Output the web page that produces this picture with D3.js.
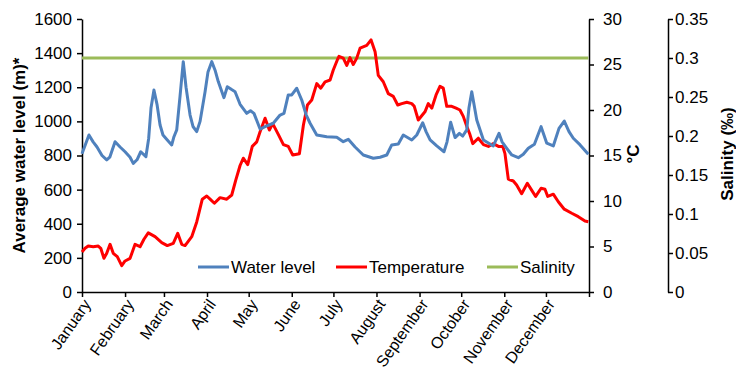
<!DOCTYPE html>
<html>
<head>
<meta charset="utf-8">
<script src="https://cdn.jsdelivr.net/npm/d3@7"></script>
<style>
  html, body { margin: 0; padding: 0; background: #fff; }
  svg { display: block; font-family: "Liberation Sans", Arial, sans-serif; }
</style>
</head>
<body>
<svg id="chart" width="736" height="374"></svg>
<script>
// Month labels for the category axis
const months = ["January", "February", "March", "April", "May", "June",
  "July", "August", "September", "October", "November", "December"];

// Average water level (m), by day of year
const levelDay = [0, 5, 8, 10.8, 14.4, 17.8, 20, 23.8, 27.4, 31, 34.6, 36.9, 39.6, 42.3, 46, 48, 49.7, 51.8, 54, 56.2,
  58.3, 61.4, 64.6, 66.2, 68.2, 70.6, 72.9, 74.9, 77.8, 79.9, 82.6, 85, 88.6, 90.7, 93.4, 95.8, 98.1, 102.2, 104.6, 108,
  110.2, 113.8, 118.6, 121.3, 123.8, 128.2, 131.8, 137.7, 142.6, 145.4, 148.5, 151, 154.6, 158.2, 161.3, 164.2, 169, 176.2, 183.4, 188.1,
  191.7, 196.6, 202.5, 209.7, 214.6, 219.4, 223, 227.7, 231.3, 237.4, 241, 245.3, 247.7, 250.6, 255.4, 260.6, 262.8, 265.4, 268.6, 271.7,
  274.1, 277, 278.6, 280.6, 282.2, 284.2, 289, 296.1, 300.2, 302.4, 305.8, 309.4, 314.1, 317.7, 321.3, 325.7, 330.5, 334.6, 339.3, 343.4,
  347.2, 350.6, 353.7, 358.6, 364.5];
const level = [810, 920, 880, 850, 800, 774, 790, 881, 850, 822, 790, 754, 775, 822, 793, 900, 1080, 1184, 1100, 979,
  920, 891, 862, 910, 950, 1150, 1350, 1200, 1037, 970, 940, 1000, 1174, 1290, 1350, 1300, 1233, 1139, 1203, 1185,
  1174, 1100, 1047, 1062, 1047, 955, 969, 989, 1037, 1047, 1155, 1155, 1194, 1125, 1040, 989, 920, 910, 907, 881,
  895, 850, 803, 784, 790, 803, 862, 867, 920, 891, 920, 992, 940, 891, 856, 822, 880, 995, 905, 930,
  914, 950, 1080, 1174, 1100, 1008, 891, 856, 930, 880, 842, 803, 787, 807, 842, 866, 969, 872, 856, 959,
  1002, 940, 901, 862, 807];

// Water temperature (°C), by day of year
const tempDay = [0, 2.2, 4.5, 8.1, 11.7, 13.5, 15.8, 17.8, 20.2, 22.5, 25.4, 28.6, 31, 34.6, 38.2, 41.8, 44.6, 47.7, 52.6, 57.4,
  61.4, 65.7, 68.9, 71.8, 74.2, 79, 82.6, 86.6, 89.8, 92.2, 95.3, 99.4, 104.2, 107.8, 110.7, 113.8, 116.1, 119.3, 122.6, 125.8,
  128.2, 131.8, 134.9, 137.3, 141.4, 145, 148.5, 151.7, 156.5, 159.4, 162.3, 165.4, 169, 171.9, 175, 178.6, 180.9, 183.8, 185, 188.1,
  190.6, 192.9, 195.3, 197.8, 200.2, 205, 208.1, 211, 213.3, 216.9, 220.5, 224.1, 227.3, 230.2, 233.8, 237.4, 239.2, 242.1, 245, 246.9,
  249.3, 251.8, 254.9, 257.7, 260.1, 262.6, 266.2, 269.3, 272.1, 274.5, 277, 279.3, 281.3, 285.3, 289, 292.6, 296.1, 299.8, 302.9, 304.5,
  306.9, 310.5, 312.9, 316.5, 320.6, 323.7, 326.6, 330.5, 333.3, 335.3, 339.3, 342.9, 347.2, 352.6, 357.3, 362.1, 364.5];
const temperature = [4.4, 4.8, 5.05, 4.98, 5.05, 4.8, 3.7, 4.25, 5.24, 4.25, 3.88, 2.89, 3.41, 3.7, 5.24, 4.98, 5.8, 6.5, 6.08, 5.42,
  5.1, 5.35, 6.45, 5.24, 5.1, 6.08, 7.7, 10.2, 10.55, 10.2, 9.75, 10.37, 10.2, 10.66, 12.3, 13.9, 14.7, 14.0, 16.0, 16.5,
  17.6, 19.1, 17.8, 18.5, 17.3, 16.2, 16.0, 15.05, 15.2, 18.35, 20.55, 21.1, 22.9, 22.4, 23.1, 23.3, 24.4, 25.5, 25.9, 25.7,
  24.9, 25.75, 25.0, 25.7, 26.8, 27.1, 27.7, 26.4, 23.8, 23.1, 21.8, 21.5, 20.55, 20.7, 20.85, 20.7, 20.4, 18.9, 19.45, 19.8,
  20.7, 20.2, 21.65, 22.6, 22.4, 20.4, 20.4, 20.2, 20.0, 19.3, 18.2, 17.3, 16.3, 16.9, 16.2, 16.0, 16.3, 16.0, 16.0, 15.2,
  12.4, 12.2, 11.76, 10.8, 11.95, 11.2, 10.5, 11.4, 11.3, 10.5, 10.75, 9.92, 9.1, 8.65, 8.28, 7.8, 7.73];

// Salinity (‰), constant through the year
const salinityDay = [0, 364.5];
const salinity = [0.3, 0.3];

const seriesNames = ["Water level", "Temperature", "Salinity"];
const seriesColors = ["#4F81BD", "#FF0000", "#9BBB59"];

const svg = d3.select("#chart");
const plot = { left: 82, right: 589, top: 19, bottom: 292 };

const yearStart = new Date(Date.UTC(2013, 0, 1));
const yearEnd = new Date(Date.UTC(2014, 0, 1));
const dayToDate = d => new Date(yearStart.getTime() + d * 86400000);

const x = d3.scaleUtc().domain([yearStart, yearEnd]).range([plot.left, plot.right]);
const yLevel = d3.scaleLinear().domain([0, 1600]).range([plot.bottom, plot.top]);
const yTemp = d3.scaleLinear().domain([0, 30]).range([plot.bottom, plot.top]);
const ySal = d3.scaleLinear().domain([0, 0.35]).range([plot.bottom, plot.top]);

const fontSize = 17;

function styleAxis(g) {
  g.selectAll(".domain").attr("stroke", "#000").attr("stroke-width", 1.5);
  g.selectAll(".tick line").attr("stroke", "#000").attr("stroke-width", 1.5);
  g.selectAll("text").attr("fill", "#000").style("font-size", fontSize + "px")
    .style("font-family", "'Liberation Sans', Arial, sans-serif");
}

// Left axis: water level
svg.append("g")
  .attr("transform", `translate(${plot.left},0)`)
  .call(d3.axisLeft(yLevel).tickValues(d3.range(0, 1601, 200)).tickFormat(d3.format("d"))
    .tickSize(5).tickPadding(5).tickSizeOuter(0))
  .call(styleAxis);

// Right axis: temperature
svg.append("g")
  .attr("transform", `translate(${plot.right},0)`)
  .call(d3.axisRight(yTemp).tickValues(d3.range(0, 31, 5)).tickSize(5).tickPadding(9).tickSizeOuter(0))
  .call(styleAxis);

// Outer right axis: salinity
const salAxisX = 668;
svg.append("g")
  .attr("transform", `translate(${salAxisX},0)`)
  .call(d3.axisRight(ySal).tickValues(d3.range(0, 8).map(i => i * 0.05))
    .tickFormat(d => d === 0 ? "0" : d3.format(".2~f")(d)).tickSize(5).tickPadding(2).tickSizeOuter(0))
  .call(styleAxis);

// Bottom axis: month starts
const monthStarts = d3.utcMonth.range(yearStart, yearEnd);
svg.append("g")
  .attr("transform", `translate(0,${plot.bottom})`)
  .call(d3.axisBottom(x).tickValues(monthStarts.concat([yearEnd])).tickSize(5).tickFormat("").tickSizeOuter(0))
  .call(styleAxis);

svg.append("g").selectAll("text")
  .data(monthStarts)
  .join("text")
  .attr("transform", d => `translate(${x(d) + 5},${plot.bottom + 9}) rotate(-55)`)
  .attr("text-anchor", "end")
  .attr("dy", "0.35em")
  .style("font-size", "16px")
  .attr("fill", "#000")
  .text((d, i) => months[i]);

// Series lines
const lineLevel = d3.line().x((d, i) => x(dayToDate(levelDay[i]))).y(d => yLevel(d));
const lineTemp = d3.line().x((d, i) => x(dayToDate(tempDay[i]))).y(d => yTemp(d));
const lineSal = d3.line().x((d, i) => x(dayToDate(salinityDay[i]))).y(d => ySal(d));

svg.append("path").datum(salinity).attr("d", lineSal)
  .attr("fill", "none").attr("stroke", seriesColors[2]).attr("stroke-width", 3);
svg.append("path").datum(temperature).attr("d", lineTemp)
  .attr("fill", "none").attr("stroke", seriesColors[1]).attr("stroke-width", 3)
  .attr("stroke-linejoin", "round");
svg.append("path").datum(level).attr("d", lineLevel)
  .attr("fill", "none").attr("stroke", seriesColors[0]).attr("stroke-width", 3)
  .attr("stroke-linejoin", "round");

// Legend
const legendY = 267;
const legendX = [198, 336, 487];
const legend = svg.append("g").selectAll("g")
  .data(seriesNames)
  .join("g")
  .attr("transform", (d, i) => `translate(${legendX[i]},${legendY})`);
legend.append("line")
  .attr("x1", 0).attr("x2", 31).attr("y1", 0).attr("y2", 0)
  .attr("stroke", (d, i) => seriesColors[i]).attr("stroke-width", 3);
legend.append("text")
  .attr("x", 33).attr("dy", "0.35em")
  .style("font-size", fontSize + "px")
  .attr("fill", "#000")
  .text(d => d);

// Axis titles
svg.append("text")
  .attr("transform", `translate(19,${(plot.top + plot.bottom) / 2}) rotate(-90)`)
  .attr("text-anchor", "middle").attr("dy", "0.35em")
  .style("font-size", "17px").style("font-weight", "bold")
  .text("Average water level (m)*");
svg.append("text")
  .attr("transform", `translate(633,154) rotate(-90)`)
  .attr("text-anchor", "middle").attr("dy", "0.35em")
  .style("font-size", "17px").style("font-weight", "bold")
  .text("°C");
svg.append("text")
  .attr("transform", `translate(727,154) rotate(-90)`)
  .attr("text-anchor", "middle").attr("dy", "0.35em")
  .style("font-size", "17px").style("font-weight", "bold")
  .text("Salinity (‰)");
</script>
</body>
</html>
